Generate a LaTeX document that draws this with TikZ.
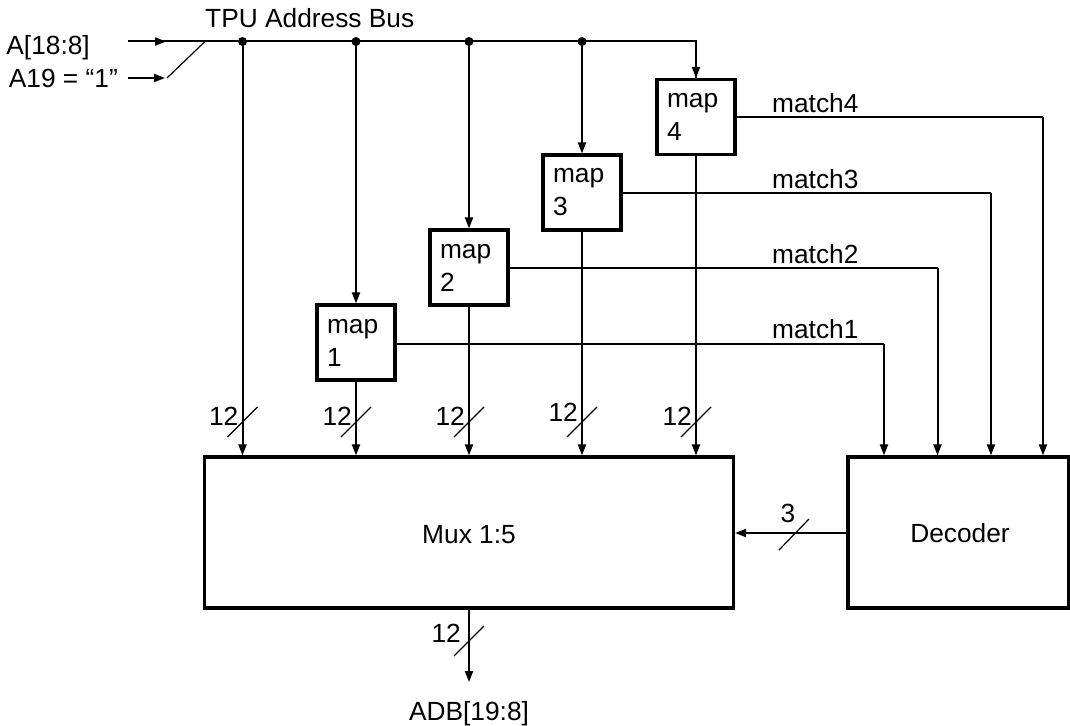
\documentclass[tikz,border=0pt]{standalone}
\usepackage{fontspec}
\setmainfont{Liberation Sans}
\usetikzlibrary{arrows.meta}
\begin{document}
\begin{tikzpicture}[x=1pt,y=-1pt,
  font=\fontsize{26.3}{33}\selectfont,
  conn/.style={line width=2pt},
  arr/.style={line width=2pt,-{Triangle[length=11pt,width=8pt]}},
  blk/.style={draw,line width=3.2pt,inner sep=0pt},
  mapbox/.style={blk,minimum width=78pt,minimum height=75pt,text width=58pt,align=left},
  slashln/.style={line width=1.2pt},
  lbl/.style={inner sep=0pt}]
\useasboundingbox (0,0) rectangle (1070,725);

% blocks
\node[blk,minimum width=529pt,minimum height=151pt] (mux) at (469,532.5) {};
\node[lbl,anchor=base] (muxt) at (469,543) {Mux 1:5};
\node[blk,minimum width=221pt,minimum height=151pt] (dec) at (958.5,532.5) {};
\node[lbl,anchor=base] (dect) at (960,542) {Decoder};

\node[mapbox] (m1) at (356,342.5) {map\\1};
\node[mapbox] (m2) at (469,267.5) {map\\2};
\node[mapbox] (m3) at (582,192.5) {map\\3};
\node[mapbox] (m4) at (696,117) {map\\4};

% inputs
\node[lbl,anchor=base east] (la) at (90,55) {A[18:8]};
\node[lbl,anchor=base east] (lb) at (118,88) {A19 = “1”};
\node[lbl,anchor=base west] (tpu) at (205,28) {TPU Address Bus};

\coordinate (s0) at (128,41.5);
\coordinate (s1) at (166,41.5);
\coordinate (a19s) at (128,78);
\coordinate (a19e) at (165,78);
\coordinate (dg0) at (167,78);
\coordinate (dg1) at (205,41.5);
\coordinate (d1) at (242.5,41.5);
\coordinate (d2) at (356,41.5);
\coordinate (d3) at (469,41.5);
\coordinate (d4) at (582,41.5);
\coordinate (d5) at (696,41.5);

\draw[conn] (s0) -- (d5) -- (m4.north);
\draw[arr] (d5) -- (m4.north);
\draw[arr] (s0) -- (s1);
\draw[arr] (a19s) -- (a19e);
\draw[slashln] (dg0) -- (dg1);
\foreach \d in {d1,d2,d3,d4} \fill (\d) circle (4.5pt);

% verticals
\draw[arr] (d1) -- (d1 |- mux.north);
\draw[arr] (d2) -- (m1.north);
\draw[arr] (d3) -- (m2.north);
\draw[arr] (d4) -- (m3.north);
\draw[arr] (m1.south) -- (m1.south |- mux.north);
\draw[arr] (m2.south) -- (m2.south |- mux.north);
\draw[arr] (m3.south) -- (m3.south |- mux.north);
\draw[arr] (m4.south) -- (m4.south |- mux.north);

% bus width marks
\foreach \x/\n/\b in {242.5/1/425,356/2/425,469/3/425,582/4/421,696/5/425}{
  \draw[slashln] (\x-15,437) -- (\x+15,407);
  \node[lbl,anchor=base east] (w\n) at (\x-4,\b) {12};
}

% match lines
\coordinate (t1) at (884,344);
\coordinate (t2) at (937.5,268);
\coordinate (t3) at (991,193);
\coordinate (t4) at (1043,117);
\draw[conn] (m1.east |- t1) -- (t1);
\draw[arr] (t1) -- (t1 |- dec.north);
\draw[conn] (m2.east |- t2) -- (t2);
\draw[arr] (t2) -- (t2 |- dec.north);
\draw[conn] (m3.east |- t3) -- (t3);
\draw[arr] (t3) -- (t3 |- dec.north);
\draw[conn] (m4.east |- t4) -- (t4);
\draw[arr] (t4) -- (t4 |- dec.north);
\node[lbl,anchor=base west] (mt1) at (772,338) {match1};
\node[lbl,anchor=base west] (mt2) at (772,263) {match2};
\node[lbl,anchor=base west] (mt3) at (772,188) {match3};
\node[lbl,anchor=base west] (mt4) at (772,112) {match4};

% decoder to mux
\draw[arr] (dec.west |- 0,533) -- (mux.east |- 0,533);
\draw[slashln] (779,550) -- (809,519);
\node[lbl,anchor=base] (n3) at (788,522) {3};

% output
\coordinate (adb) at (469,682);
\draw[arr] (mux.south -| adb) -- (adb);
\draw[slashln] (454,656) -- (484,626);
\node[lbl,anchor=base east] (w6) at (461,642) {12};
\node[lbl,anchor=base] (adbt) at (469,720) {ADB[19:8]};
\end{tikzpicture}
\end{document}
